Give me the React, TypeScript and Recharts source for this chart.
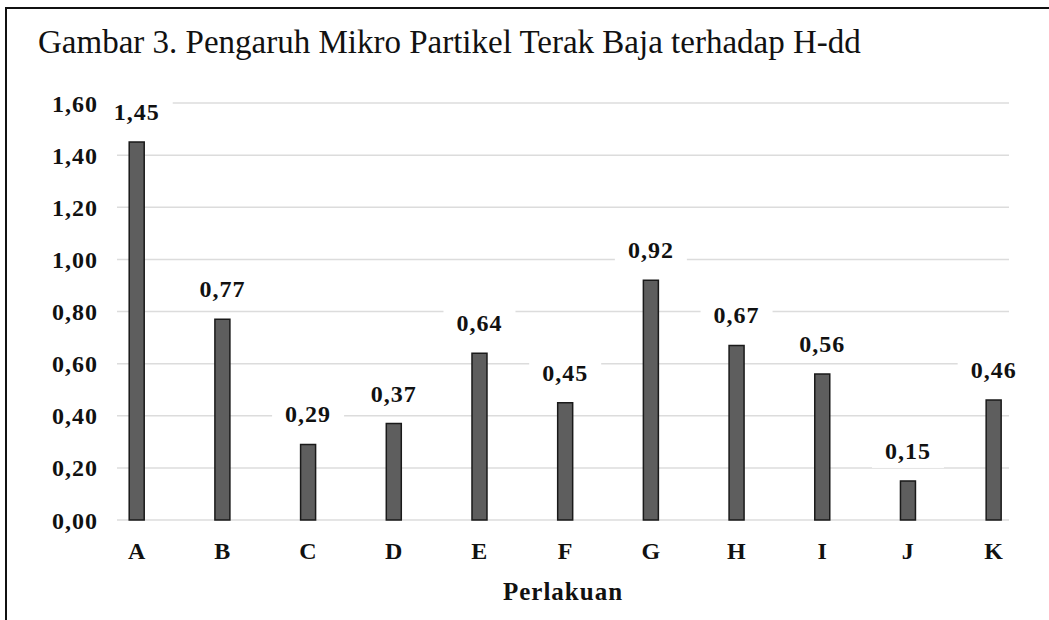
import { BarChart, Bar, XAxis, YAxis, CartesianGrid, LabelList } from 'recharts';

const categories = ['A', 'B', 'C', 'D', 'E', 'F', 'G', 'H', 'I', 'J', 'K'];
const values = [1.45, 0.77, 0.29, 0.37, 0.64, 0.45, 0.92, 0.67, 0.56, 0.15, 0.46];
const yTicks = [0, 0.2, 0.4, 0.6, 0.8, 1.0, 1.2, 1.4, 1.6];

const data = categories.map((name, i) => ({ idx: i, name, value: values[i] }));

const FONT = '"Liberation Serif", "Times New Roman", serif';
const fmt = (v: number) => v.toFixed(2).replace('.', ',');

const ValueLabel = (props: any) => {
  const { x, y, width, value } = props;
  const cx = x + width / 2;
  const cy = y - 30;
  return (
    <g>
      <rect x={cx - 36} y={cy - 17} width={72} height={34} fill="#fff" />
      <text
        x={cx}
        y={cy}
        textAnchor="middle"
        dominantBaseline="central"
        fontFamily={FONT}
        fontWeight="bold"
        fontSize={24}
        letterSpacing={1}
        fill="#111"
      >
        {fmt(value)}
      </text>
    </g>
  );
};

export default function App() {
  const tickStyle = { fontFamily: FONT, fontWeight: 'bold', fontSize: 24, fill: '#111', letterSpacing: 1 };
  return (
    <div style={{ position: 'absolute', left: 0, top: 0, width: 1049, height: 620, background: '#fff', overflow: 'hidden' }}>
      {/* figure frame */}
      <div style={{ position: 'absolute', left: 5, top: 7, width: 1049, height: 640, borderTop: '2px solid #111', borderLeft: '2px solid #111' }} />
      <div
        style={{
          position: 'absolute',
          left: 38,
          top: 26,
          fontFamily: FONT,
          fontSize: 33,
          lineHeight: '33px',
          color: '#111',
          whiteSpace: 'nowrap',
        }}
      >
        Gambar 3. Pengaruh Mikro Partikel Terak Baja terhadap H-dd
      </div>
      <div style={{ position: 'absolute', left: 0, top: 0 }}>
        <BarChart width={1049} height={620} data={data} margin={{ top: 103, right: 40, bottom: 0, left: 57 }}>
          <CartesianGrid vertical={false} stroke="#dcdcdc" strokeWidth={1.5} />
          <XAxis
            dataKey="idx"
            type="number"
            domain={[-0.234, 10.175]}
            ticks={categories.map((_, i) => i)}
            tickFormatter={(i: number) => categories[i]}
            axisLine={false}
            tickLine={false}
            tickSize={0}
            tickMargin={22}
            height={100}
            tick={tickStyle}
            allowDataOverflow
            label={{
              value: 'Perlakuan',
              position: 'insideBottom',
              offset: 20,
              style: { fontFamily: FONT, fontWeight: 'bold', fontSize: 25, fill: '#111', letterSpacing: 1 },
            }}
          />
          <YAxis
            type="number"
            domain={[0, 1.6]}
            ticks={yTicks}
            tickFormatter={fmt}
            axisLine={false}
            tickLine={false}
            tickSize={0}
            tickMargin={19}
            width={60}
            tick={tickStyle}
          />
          <Bar dataKey="value" barSize={15} fill="#5e5e5e" stroke="#1a1a1a" strokeWidth={1.5} isAnimationActive={false}>
            <LabelList dataKey="value" content={<ValueLabel />} />
          </Bar>
        </BarChart>
      </div>
    </div>
  );
}
